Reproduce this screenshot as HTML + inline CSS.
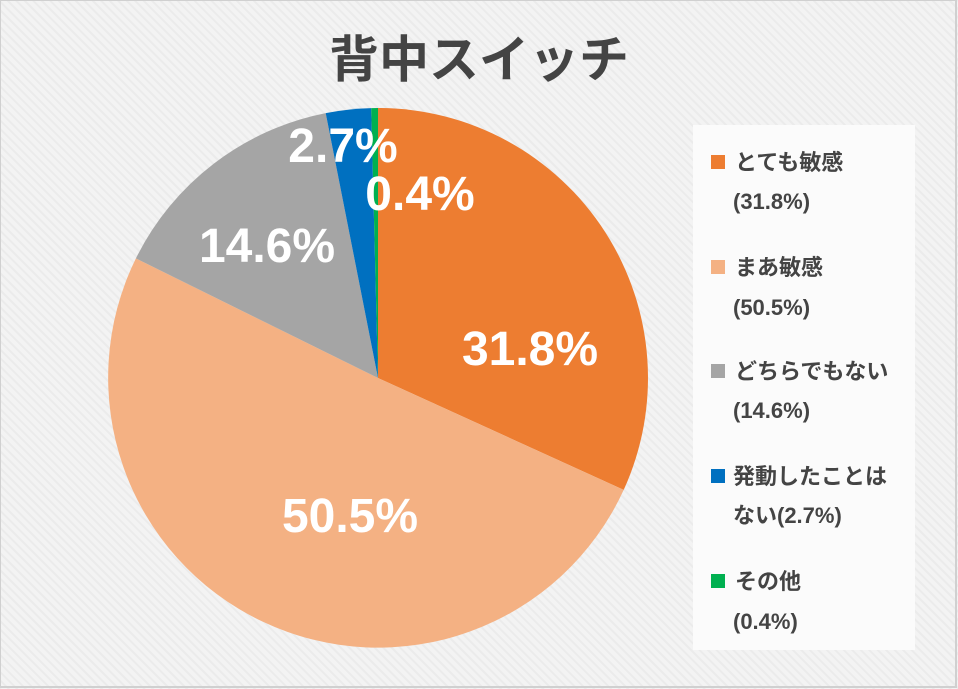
<!DOCTYPE html>
<html><head><meta charset="utf-8"><style>
body{margin:0;width:958px;height:689px;overflow:hidden;background:#f1f1f1;}
svg{display:block}
text{font-family:"Liberation Sans","Noto Sans CJK JP",sans-serif;font-weight:bold}
</style></head><body>
<svg width="958" height="689" viewBox="0 0 958 689">
<defs><pattern id="p" width="6" height="6" patternUnits="userSpaceOnUse" patternTransform="rotate(45)"><rect width="6" height="6" fill="#f3f3f3"/><rect width="6" height="2" fill="#ebebeb"/></pattern></defs>
<rect width="958" height="689" fill="url(#p)"/>
<rect x="0" y="0" width="956" height="687" fill="none" stroke="#d0d0d0" stroke-width="2"/>
<text x="479" y="77" text-anchor="middle" font-size="50" fill="#444">背中スイッチ</text>
<g>
<path d="M378,378 L378,108 A270,270 0 0 1 623.7,489.9 Z" fill="#ED7D31"/>
<path d="M378,378 L623.7,489.9 A270,270 0 1 1 135.9,258.4 Z" fill="#F4B183"/>
<path d="M378,378 L135.9,258.4 A270,270 0 0 1 325.7,113.1 Z" fill="#A5A5A5"/>
<path d="M378,378 L325.7,113.1 A270,270 0 0 1 371.2,108.1 Z" fill="#0070C0"/>
<path d="M378,378 L371.2,108.1 A270,270 0 0 1 378,108 Z" fill="#00B050"/>
</g>
<g font-size="48" fill="#fff" text-anchor="middle">
<text x="530" y="365">31.8%</text>
<text x="350" y="532">50.5%</text>
<text x="267" y="262">14.6%</text>
<text x="343" y="162">2.7%</text>
<text x="420" y="210">0.4%</text>
</g>
<rect x="693" y="125" width="222" height="525" fill="#fbfbfb"/>
<g font-size="22" fill="#444">
<rect x="711" y="155" width="14" height="14" fill="#ED7D31"/><text x="735" y="170">とても敏感</text><text x="733" y="209">(31.8%)</text>
<rect x="711" y="260" width="14" height="14" fill="#F4B183"/><text x="735" y="275">まあ敏感</text><text x="733" y="315">(50.5%)</text>
<rect x="711" y="364" width="14" height="14" fill="#A5A5A5"/><text x="735" y="379">どちらでもない</text><text x="733" y="418">(14.6%)</text>
<rect x="711" y="469" width="14" height="14" fill="#0070C0"/><text x="733" y="484">発動したことは</text><text x="733" y="523">ない(2.7%)</text>
<rect x="711" y="574" width="14" height="14" fill="#00B050"/><text x="735" y="589">その他</text><text x="733" y="629">(0.4%)</text>
</g>
</svg>
</body></html>
